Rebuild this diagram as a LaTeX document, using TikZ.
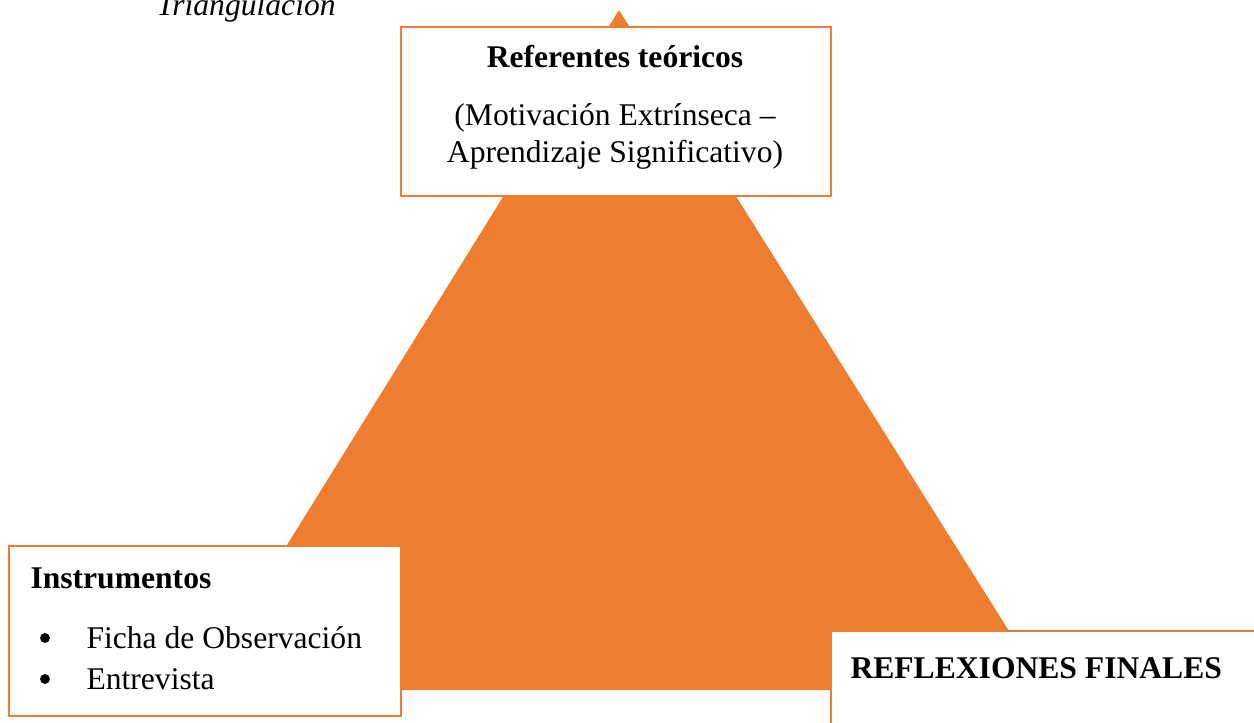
\documentclass[tikz,border=0pt]{standalone}
\usepackage{fontspec}
\setmainfont{Liberation Serif}
\usetikzlibrary{positioning}
\definecolor{naranja}{HTML}{ED7D31}
\tikzset{%
  caja/.style={           % white boxes with orange border
    draw=naranja,
    line width=0.8pt,
    fill=white,
    anchor=north west,
    inner sep=0pt},
  texto/.style={
    inner sep=0pt,
    font=\fontsize{11.85}{14}\selectfont},
  titulo/.style={
    inner sep=0pt,
    font=\fontsize{11.85}{14}\selectfont\bfseries},
  vineta/.style={          % bullet
    circle, fill=black, inner sep=0pt, minimum size=3.7pt}
}

\begin{document}
\begin{tikzpicture}[x=0.375pt, y=-0.375pt]
  \useasboundingbox (0,0) rectangle (1254,722);

  \node[texto, anchor=base west, font=\fontsize{11.85}{14}\selectfont\itshape]
        (trian) at (156,15) {Triangulación};

  % triangle
  \coordinate (apex) at (619,10);
  \coordinate (izq)  at (197,690);
  \coordinate (der)  at (1046,690);
  \fill[naranja] (apex) -- (izq) -- (der) -- cycle;

  % boxes
  \node[caja, minimum width=161.25pt, minimum height=63.4pt]  (teoria) at (400,26) {};
  \node[caja, minimum width=147pt,    minimum height=63.75pt] (instr)  at (8,545)   {};
  \node[caja, minimum width=170pt,    minimum height=45pt]    (reflex) at (830,630) {};

  \node[titulo] (tteoria) at (615,57)  {Referentes teóricos};
  \node[texto]  (mot)     at (615,118) {(Motivación Extrínseca –};
  \node[texto]  (apr)     at (615,155) {Aprendizaje Significativo)};

  \node[titulo, anchor=west] (tinstr) at (30,578) {Instrumentos};
  \node[vineta] (b1) at (45,638) {};
  \node[vineta] (b2) at (45,679) {};
  \node[texto, anchor=west] (ficha) at (86,638) {Ficha de Observación};
  \node[texto, anchor=west] (entre) at (86,679) {Entrevista};

  \node[titulo, anchor=west] (treflex) at (850,668) {REFLEXIONES FINALES};
\end{tikzpicture}
\end{document}
